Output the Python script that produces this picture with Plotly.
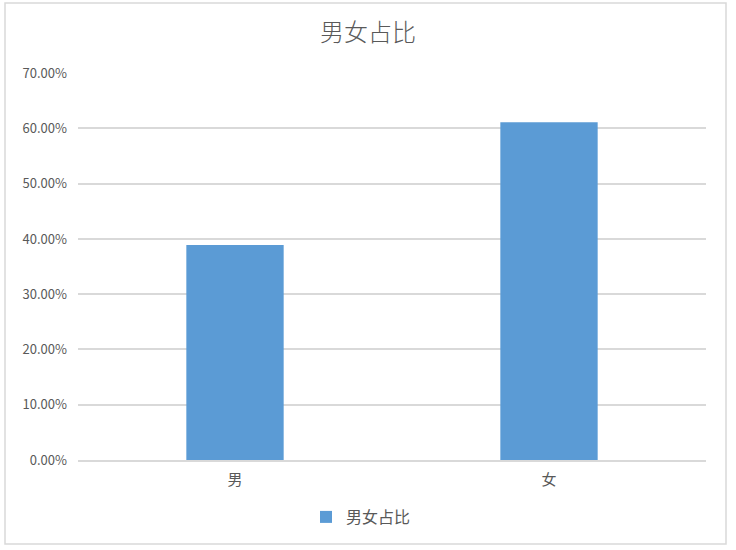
import plotly.graph_objects as go

# Chart data
categories = ["男", "女"]
shares = [0.389, 0.611]
series_name = "男女占比"
y_ticks = [0, 0.1, 0.2, 0.3, 0.4, 0.5, 0.6, 0.7]

W, H = 736, 550
L, R, T, B = 78, 30, 73, 90
pw, ph = W - L - R, H - T - B


def px_x(x):
    return (x - L) / pw


def px_y(y):
    return (H - B - y) / ph


fig = go.Figure()

fig.add_trace(
    go.Bar(
        x=categories,
        y=shares,
        name=series_name,
        marker=dict(color="#5B9BD5", line=dict(width=0)),
        width=0.31,
        showlegend=True,
    )
)

# Outer chart border
fig.add_shape(
    type="rect",
    xref="paper", yref="paper",
    x0=px_x(5), x1=px_x(726), y0=px_y(544), y1=px_y(3),
    line=dict(color="#D9D9D9", width=1.5),
    fillcolor="rgba(0,0,0,0)",
    layer="below",
)

font = "Microsoft YaHei, Noto Sans CJK SC, sans-serif"

fig.update_layout(
    width=W,
    height=H,
    margin=dict(l=L, r=R, t=T, b=B),
    paper_bgcolor="white",
    plot_bgcolor="white",
    font=dict(family=font, color="#595959", size=13),
    title=dict(
        text="男女占比",
        x=0.5,
        xanchor="center",
        y=1 - 33 / H,
        yanchor="middle",
        font=dict(size=24, color="#595959", family=font, weight=300),
    ),
    xaxis=dict(
        showgrid=False,
        showline=True,
        linecolor="#D9D9D9",
        linewidth=1.5,
        ticks="",
        ticklabelstandoff=5,
        tickfont=dict(size=15, color="#595959"),
    ),
    yaxis=dict(
        range=[0, 0.7003],
        tickvals=y_ticks,
        tickformat=".2%",
        showgrid=True,
        gridcolor="#D9D9D9",
        gridwidth=1.5,
        zeroline=False,
        showline=False,
        ticks="",
        ticklabelstandoff=10,
        tickfont=dict(size=13, color="#595959"),
    ),
    legend=dict(
        orientation="h",
        x=px_x(361),
        xanchor="center",
        y=px_y(517),
        yanchor="middle",
        font=dict(size=16, color="#595959"),
        itemwidth=30,
    ),
)

fig.write_html(
    "out.html",
    config={"displayModeBar": False},
    post_script="document.body.style.margin='0';",
)
